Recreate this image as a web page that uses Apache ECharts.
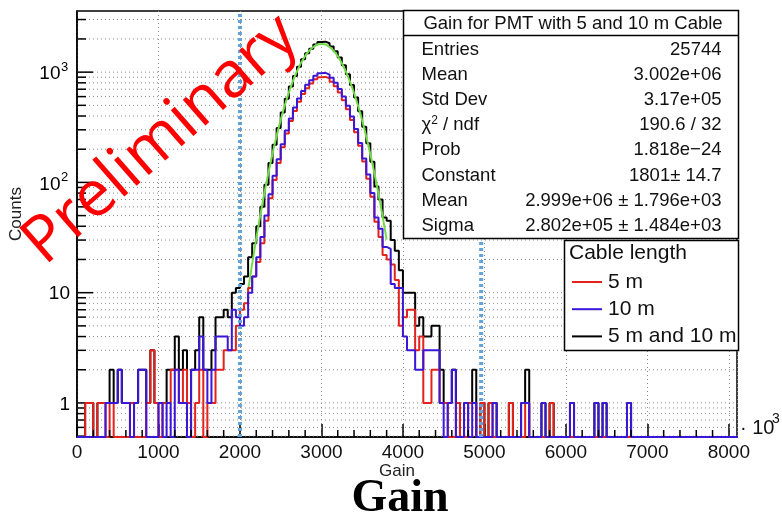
<!DOCTYPE html>
<html><head><meta charset="utf-8">
<script src="https://cdn.jsdelivr.net/npm/echarts@6/dist/echarts.min.js"></script>
<style>html,body{margin:0;padding:0;background:#fff}#c{width:782px;height:520px}</style>
</head><body><div id="c"></div>
<script>
// ---------- data (bin width 50, range 0..8100, units of 10^3) ----------
const binWidth = 50;
const xMax = 8100;
const red = [0,0,1,1,0,1,1,0,1,0, 0,0,0,1,0,0,0,1,3,1, 0,1,1,2,2,1,2,1,0,1, 2,0,1,1,2,2,3,3,3,5,
  7,8,11,14,19,28,45,72,105,150, 208,278,360,445,540,632,715,790,860,900, 905,880,820,745,655,555,460,368,285,215,
  155,108,74,44,32,22,20,18,13,5, 6,7,7,3,4,1,1,2,2,1, 1,0,0,1,0,0,1,1,0,1, 0,1,0,0,0,0,1,0,0,0,
  1,0,0,0,0,0,1,0,0,0, 0,0,0,0,0,0,0,0,0,0, 0,0,0,0,0,0,0,0,0,0, 0,0,0,0,0,0,0,0,0,0,
  0,0,0,0,0,0,0,0,0,0, 0,0,0,0,0,0,0,0,0,0, 1,0];
const blue = [0,0,0,0,0,0,0,1,1,1, 2,1,1,0,1,2,2,0,0,0, 1,0,1,0,2,1,1,0,2,2, 4,2,1,2,4,4,4,3,7,6,
  5,6,10,14,21,32,50,78,115,162, 222,296,380,478,577,676,770,843,925,975, 985,950,890,800,705,600,495,395,305,228,
  165,118,80,48,38,26,25,12,11,11, 4,3,3,2,2,3,3,3,3,1, 0,1,2,0,0,1,0,1,0,0, 0,0,1,0,0,0,0,0,0,1,
  1,0,0,0,1,0,0,0,0,0, 0,1,0,0,0,0,0,1,0,1, 0,0,0,0,0,1,0,0,0,0, 0,0,0,0,0,0,0,0,0,0,
  0,0,0,0,0,0,0,0,0,0, 0,0,0,0,0,0,0,0,0,0, 0,0];
const black = [0,0,1,1,0,1,1,1,2,1, 2,1,1,1,1,2,2,1,3,1, 1,1,2,2,4,2,3,1,2,3, 6,2,2,3,6,6,7,6,10,11,
  12,14,21,28,40,60,95,150,220,312, 430,574,740,923,1117,1308,1485,1633,1785,1875, 1890,1830,1710,1545,1360,1155,955,763,590,443,
  320,226,154,92,70,48,45,30,24,16, 10,10,10,5,6,4,4,5,5,2, 1,1,2,1,0,1,1,2,0,1, 0,1,1,0,0,0,1,0,0,1,
  2,0,0,0,1,0,1,0,0,0, 0,1,0,0,0,0,0,1,0,1, 0,0,0,0,0,1,0,0,0,0, 0,0,0,0,0,0,0,0,0,0,
  0,0,0,0,0,0,0,0,0,0, 0,0,0,0,0,0,0,0,0,0, 1,0];
// Gaussian fit curve
const fitX = [2100,2200,2300,2400,2500,2600,2700,2800,2900,3000,3100,3200,3300,3400,3500,3600,3700,3800];
const fitY = [10.5,30.9,80.2,183,369,653,1019,1400,1692,1801,1688,1392,1011,647,364,180,78.8,30.3];
// vertical reference lines
const refLines = [2000, 4960];
// axes
const yAxisMin = 0.491, yAxisMax = 3585;
const yMajor = [1, 10, 100, 1000];
const yMajorBase = ['1', '10', '10', '10'];
const yMajorExp = ['', '', '2', '3'];
const yMinor = [0.5,0.6,0.7,0.8,0.9, 2,3,4,5,6,7,8,9, 20,30,40,50,60,70,80,90, 200,300,400,500,600,700,800,900, 2000,3000];
const xMinor = [];
for (let k = 200; k < 8000; k += 200) if (k % 1000 !== 0) xMinor.push(k);
// stats box
const statsTitle = 'Gain for PMT with 5 and 10 m Cable';
const statsLabels = ['Entries','Mean','Std Dev','χ{s|2} / ndf','Prob','Constant','Mean','Sigma'];
const statsValues = ['25744','3.002e+06','3.17e+05','190.6 / 32','1.818e−24','1801± 14.7','2.999e+06 ± 1.796e+03','2.802e+05 ± 1.484e+03'];
// legend
const legendTitle = 'Cable length';
const legendNames = ['5 m', '10 m', '5 m and 10 m'];
const colRed = '#e3221b', colBlue = '#3a16d8', colBlack = '#000000', colGreen = '#72dc48';
const legendColors = [colRed, colBlue, colBlack];

const F = 'Liberation Sans';

function histPoints(vals) {
  const pts = [];
  for (let i = 0; i < vals.length; i++) pts.push([i * binWidth, vals[i] > 0 ? vals[i] : yAxisMin]);
  const last = vals[vals.length - 1];
  pts.push([vals.length * binWidth, last > 0 ? last : yAxisMin]);
  return pts;
}
function histSeries(name, vals, color) {
  return { name, type: 'line', step: 'end', data: histPoints(vals), symbol: 'none', showSymbol: false,
    lineStyle: { color, width: 2 }, itemStyle: { color }, clip: true, z: 3, silent: true };
}
function yTickRender(isMajor) {
  return function (params, api) {
    const v = api.value(1);
    const a = api.coord([0, v]), b = api.coord([xMax, v]);
    const kids = [
      { type: 'line', shape: { x1: a[0], y1: a[1], x2: b[0], y2: b[1] }, style: { stroke: '#8c8c8c', lineWidth: 1, lineDash: [1, 3] } },
      { type: 'line', shape: { x1: a[0], y1: a[1], x2: a[0] + (isMajor ? 16 : 9), y2: a[1] }, style: { stroke: '#000', lineWidth: 1.5 } }
    ];
    if (isMajor) {
      const i = params.dataIndex;
      if (yMajorExp[i]) {
        kids.push({ type: 'text', x: a[0] - 16.5, y: a[1] + 2, style: { text: yMajorBase[i], fontSize: 19, fontFamily: F, fill: '#000', align: 'right', verticalAlign: 'middle' } });
        kids.push({ type: 'text', x: a[0] - 16, y: a[1] - 5, style: { text: yMajorExp[i], fontSize: 13, fontFamily: F, fill: '#000', align: 'left', verticalAlign: 'middle' } });
      } else {
        kids.push({ type: 'text', x: a[0] - 7, y: a[1] + 1.5, style: { text: yMajorBase[i], fontSize: 19, fontFamily: F, fill: '#000', align: 'right', verticalAlign: 'middle' } });
      }
    }
    return { type: 'group', children: kids };
  };
}

const graphic = [];
// stats box
graphic.push({ type: 'rect', shape: { x: 403.5, y: 10.5, width: 335, height: 228 }, style: { fill: '#fff', stroke: '#000', lineWidth: 1.5 }, z: 100 });
graphic.push({ type: 'line', shape: { x1: 403.5, y1: 35.5, x2: 738.5, y2: 35.5 }, style: { stroke: '#000', lineWidth: 1.5 }, z: 101 });
graphic.push({ type: 'text', x: 573, y: 23.5, style: { text: statsTitle, fontSize: 18.5, fontFamily: F, fill: '#111', align: 'center', verticalAlign: 'middle' }, z: 101 });
statsLabels.forEach((t, i) => {
  const y = 49.5 + i * 25.2;
  graphic.push({ type: 'text', x: 421.5, y, style: { text: t, fontSize: 18.5, fontFamily: F, fill: '#111', align: 'left', verticalAlign: 'middle',
    rich: { s: { fontSize: 12, fontFamily: F, fill: '#111', padding: [0, 0, 9, 0] } } }, z: 101 });
  graphic.push({ type: 'text', x: 721.5, y, style: { text: statsValues[i], fontSize: 18.5, fontFamily: F, fill: '#111', align: 'right', verticalAlign: 'middle' }, z: 101 });
});
// legend box
graphic.push({ type: 'rect', shape: { x: 564.5, y: 240.5, width: 174, height: 110 }, style: { fill: '#fff', stroke: '#000', lineWidth: 1.5 }, z: 100 });
graphic.push({ type: 'text', x: 569, y: 253.5, style: { text: legendTitle, fontSize: 21, fontFamily: F, fill: '#111', align: 'left', verticalAlign: 'middle' }, z: 101 });
legendNames.forEach((t, i) => {
  const y = 282 + i * 27.2;
  graphic.push({ type: 'line', shape: { x1: 572, y1: y, x2: 602, y2: y }, style: { stroke: legendColors[i], lineWidth: 2 }, z: 101 });
  graphic.push({ type: 'text', x: 608, y: y, style: { text: t, fontSize: 21, fontFamily: F, fill: '#111', align: 'left', verticalAlign: 'middle' }, z: 101 });
});
// axis exponent
graphic.push({ type: 'text', x: 740, y: 428, style: { text: '· 10', fontSize: 20, fontFamily: F, fill: '#111', align: 'left', verticalAlign: 'middle' }, z: 101 });
graphic.push({ type: 'text', x: 772, y: 419, style: { text: '3', fontSize: 14, fontFamily: F, fill: '#111', align: 'left', verticalAlign: 'middle' }, z: 101 });
// watermark
graphic.push({ type: 'text', x: 161, y: 140, rotation: 0.72, style: { text: 'Preliminary', fontSize: 64, fontFamily: 'Open Sans', fill: '#ff0000', align: 'center', verticalAlign: 'middle' }, z: 120 });
// axis titles
graphic.push({ type: 'text', x: 16, y: 214, rotation: Math.PI / 2, style: { text: 'Counts', fontSize: 17, fontFamily: F, fill: '#222', align: 'center', verticalAlign: 'middle' }, z: 125 });
graphic.push({ type: 'text', x: 397, y: 471, style: { text: 'Gain', fontSize: 17, fontFamily: F, fill: '#222', align: 'center', verticalAlign: 'middle' }, z: 101 });
graphic.push({ type: 'text', x: 400, y: 499, style: { text: 'Gain', fontSize: 46, fontWeight: 'bold', fontFamily: 'Liberation Serif', fill: '#000', align: 'center', verticalAlign: 'middle' }, z: 101 });

const series = [
  { type: 'custom', name: 'yMinor', data: yMinor.map(v => [0, v]), renderItem: yTickRender(false), encode: { x: 0, y: 1 }, z: 1, silent: true, clip: false },
  { type: 'custom', name: 'yMajor', data: yMajor.map(v => [0, v]), renderItem: yTickRender(true), encode: { x: 0, y: 1 }, z: 1, silent: true, clip: false },
  { type: 'custom', name: 'xMinor', data: xMinor.map(v => [v, yAxisMin]), encode: { x: 0, y: 1 }, z: 5, silent: true,
    renderItem: (params, api) => { const p = api.coord([api.value(0), yAxisMin]); return { type: 'line', shape: { x1: p[0], y1: p[1], x2: p[0], y2: p[1] - 7 }, style: { stroke: '#000', lineWidth: 1.5 } }; } },
  histSeries('5 m and 10 m', black, colBlack),
  { name: 'fit', type: 'line', data: fitX.map((x, i) => [x, fitY[i]]), smooth: true, symbol: 'none', showSymbol: false, lineStyle: { color: colGreen, width: 2 }, z: 3, silent: true },
  histSeries('5 m', red, colRed),
  histSeries('10 m', blue, colBlue)
];
refLines.forEach(x => series.push({ type: 'line', data: [[x, yAxisMin], [x, yAxisMax]], symbol: 'none', showSymbol: false,
  lineStyle: { color: '#63a2da', width: 4, type: [3, 3] }, z: 4, silent: true }));

const chart = echarts.init(document.getElementById('c'), null, { renderer: 'canvas' });
chart.setOption({
  animation: false,
  backgroundColor: '#fff',
  grid: { left: 77, right: 45, top: 11, bottom: 83, show: true, borderColor: '#000', borderWidth: 1.5, backgroundColor: 'transparent' },
  xAxis: { type: 'value', min: 0, max: xMax, interval: 1000,
    axisLine: { show: true, onZero: false, lineStyle: { color: '#000', width: 1.5 } },
    axisTick: { show: true, inside: true, length: 13, lineStyle: { color: '#000', width: 1.5 } },
    axisLabel: { fontSize: 19, fontFamily: F, color: '#111', margin: 6, showMaxLabel: false, formatter: v => (v % 1000 === 0 ? String(v) : '') },
    splitLine: { show: true, lineStyle: { color: '#8c8c8c', width: 1, type: [1, 3] } } },
  yAxis: { type: 'log', logBase: 10, min: yAxisMin, max: yAxisMax,
    axisLine: { show: true, lineStyle: { color: '#000', width: 1.5 } },
    axisTick: { show: false }, axisLabel: { show: false }, splitLine: { show: false } },
  series,
  graphic
});
</script></body></html>
